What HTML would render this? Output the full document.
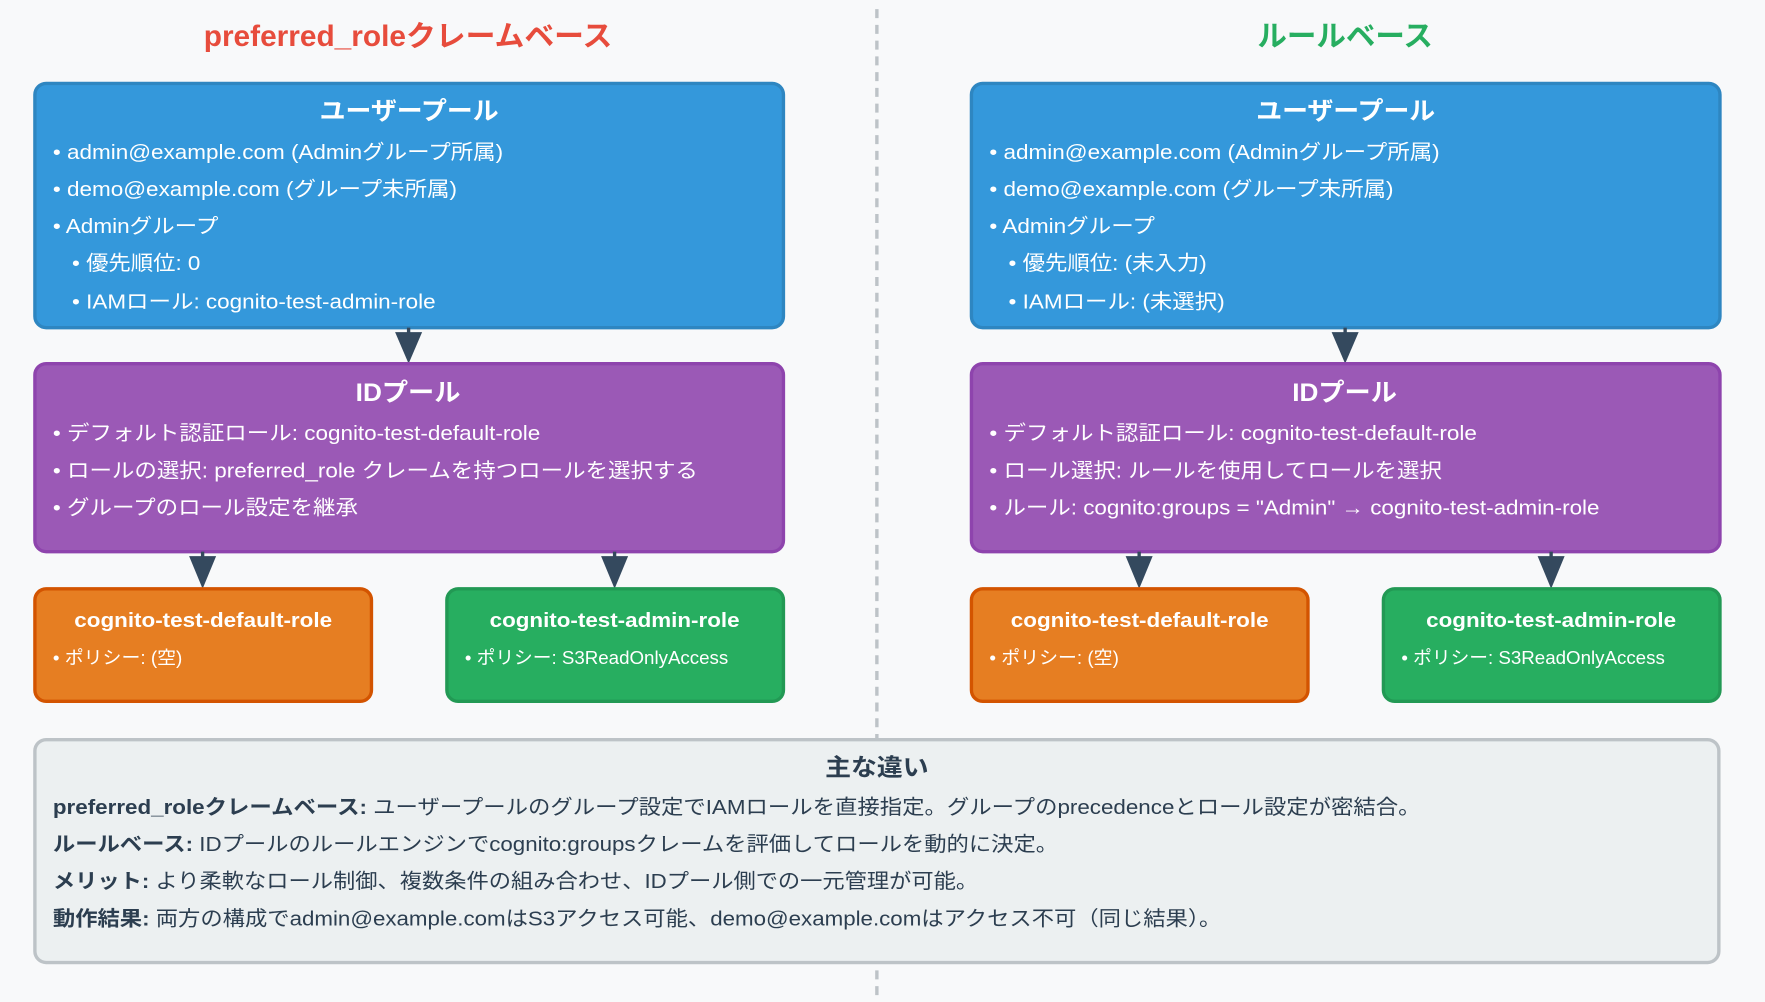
<!DOCTYPE html>
<html><head><meta charset="utf-8"><style>
html,body{margin:0;padding:0;background:#f8f9fa;}
svg{display:block;}
text{font-family:"Liberation Sans","Noto Sans CJK JP",sans-serif;}
</style></head><body>
<svg width="1765" height="1002" viewBox="0 0 1568 890" xmlns="http://www.w3.org/2000/svg">
<rect width="1568" height="890" fill="#f8f9fa"/>
<line x1="779" y1="8" x2="779" y2="885" stroke="#bdc3c7" stroke-width="3" stroke-dasharray="8,6"/>
<text x="181" y="41" textLength="363" lengthAdjust="spacingAndGlyphs" font-size="26" font-weight="bold" fill="#e74c3c">preferred_roleクレームベース</text>
<text x="1117" y="41" textLength="156" lengthAdjust="spacingAndGlyphs" font-size="26" font-weight="bold" fill="#27ae60">ルールベース</text>

<g id="L">
<rect x="31" y="74" width="665" height="217" rx="10" fill="#3498db" stroke="#2e86c1" stroke-width="3"/>
<line x1="363" y1="291" x2="363" y2="300" stroke="#34495e" stroke-width="3"/>
<polygon points="351,295 375,295 363,323" fill="#34495e"/>
<rect x="31" y="323" width="665" height="167" rx="10" fill="#9b59b6" stroke="#8e44ad" stroke-width="3"/>
<line x1="180" y1="490" x2="180" y2="500" stroke="#34495e" stroke-width="3"/>
<polygon points="168,494 192,494 180,523" fill="#34495e"/>
<line x1="546" y1="490" x2="546" y2="500" stroke="#34495e" stroke-width="3"/>
<polygon points="534,494 558,494 546,523" fill="#34495e"/>
<rect x="31" y="523" width="299" height="100" rx="10" fill="#e67e22" stroke="#d35400" stroke-width="3"/>
<rect x="397" y="523" width="299" height="100" rx="10" fill="#27ae60" stroke="#229954" stroke-width="3"/>
</g>
<use href="#L" x="832"/>

<g font-size="22" font-weight="bold" fill="#fff">
<text x="284" y="106" textLength="159" lengthAdjust="spacingAndGlyphs">ユーザープール</text>
<text x="1116" y="106" textLength="159" lengthAdjust="spacingAndGlyphs">ユーザープール</text>
<text x="316" y="356" textLength="93" lengthAdjust="spacingAndGlyphs">IDプール</text>
<text x="1148" y="356" textLength="93" lengthAdjust="spacingAndGlyphs">IDプール</text>
</g>
<g font-size="18" font-weight="bold" fill="#fff">
<text x="66" y="557" textLength="229" lengthAdjust="spacingAndGlyphs">cognito-test-default-role</text>
<text x="435" y="557" textLength="222" lengthAdjust="spacingAndGlyphs">cognito-test-admin-role</text>
<text x="898" y="557" textLength="229" lengthAdjust="spacingAndGlyphs">cognito-test-default-role</text>
<text x="1267" y="557" textLength="222" lengthAdjust="spacingAndGlyphs">cognito-test-admin-role</text>
</g>
<g font-size="16" fill="#fff">
<text x="47" y="590" textLength="115" lengthAdjust="spacingAndGlyphs">• ポリシー: (空)</text>
<text x="413" y="590" textLength="234" lengthAdjust="spacingAndGlyphs">• ポリシー: S3ReadOnlyAccess</text>
<text x="879" y="590" textLength="115" lengthAdjust="spacingAndGlyphs">• ポリシー: (空)</text>
<text x="1245" y="590" textLength="234" lengthAdjust="spacingAndGlyphs">• ポリシー: S3ReadOnlyAccess</text>
</g>

<g font-size="18" fill="#fff" lengthAdjust="spacingAndGlyphs">
<text x="47" y="141" textLength="400" lengthAdjust="spacingAndGlyphs">• admin@example.com (Adminグループ所属)</text>
<text x="47" y="174" textLength="359" lengthAdjust="spacingAndGlyphs">• demo@example.com (グループ未所属)</text>
<text x="47" y="207" textLength="147" lengthAdjust="spacingAndGlyphs">• Adminグループ</text>
<text x="64" y="240" textLength="114" lengthAdjust="spacingAndGlyphs">• 優先順位: 0</text>
<text x="64" y="274" textLength="323" lengthAdjust="spacingAndGlyphs">• IAMロール: cognito-test-admin-role</text>
<text x="47" y="391" textLength="433" lengthAdjust="spacingAndGlyphs">• デフォルト認証ロール: cognito-test-default-role</text>
<text x="47" y="424" textLength="573" lengthAdjust="spacingAndGlyphs">• ロールの選択: preferred_role クレームを持つロールを選択する</text>
<text x="47" y="457" textLength="271" lengthAdjust="spacingAndGlyphs">• グループのロール設定を継承</text>
<text x="879" y="141" textLength="400" lengthAdjust="spacingAndGlyphs">• admin@example.com (Adminグループ所属)</text>
<text x="879" y="174" textLength="359" lengthAdjust="spacingAndGlyphs">• demo@example.com (グループ未所属)</text>
<text x="879" y="207" textLength="147" lengthAdjust="spacingAndGlyphs">• Adminグループ</text>
<text x="896" y="240" textLength="176" lengthAdjust="spacingAndGlyphs">• 優先順位: (未入力)</text>
<text x="896" y="274" textLength="192" lengthAdjust="spacingAndGlyphs">• IAMロール: (未選択)</text>
<text x="879" y="391" textLength="433" lengthAdjust="spacingAndGlyphs">• デフォルト認証ロール: cognito-test-default-role</text>
<text x="879" y="424" textLength="402" lengthAdjust="spacingAndGlyphs">• ロール選択: ルールを使用してロールを選択</text>
<text x="879" y="457" textLength="542" lengthAdjust="spacingAndGlyphs">• ルール: cognito:groups = "Admin" → cognito-test-admin-role</text>
</g>

<rect x="31" y="657" width="1496" height="198" rx="10" fill="#ecf0f1" stroke="#bdc3c7" stroke-width="3"/>
<text x="733" y="689" textLength="92" lengthAdjust="spacingAndGlyphs" font-size="21" font-weight="bold" fill="#2c3e50">主な違い</text>
<g font-size="18" fill="#2c3e50">
<text x="47" y="723" textLength="1215" lengthAdjust="spacingAndGlyphs"><tspan font-weight="bold">preferred_roleクレームベース:</tspan> ユーザープールのグループ設定でIAMロールを直接指定。グループのprecedenceとロール設定が密結合。</text>
<text x="47" y="756" textLength="893" lengthAdjust="spacingAndGlyphs"><tspan font-weight="bold">ルールベース:</tspan> IDプールのルールエンジンでcognito:groupsクレームを評価してロールを動的に決定。</text>
<text x="47" y="789" textLength="822" lengthAdjust="spacingAndGlyphs"><tspan font-weight="bold">メリット:</tspan> より柔軟なロール制御、複数条件の組み合わせ、IDプール側での一元管理が可能。</text>
<text x="47" y="822" textLength="1038" lengthAdjust="spacingAndGlyphs"><tspan font-weight="bold">動作結果:</tspan> 両方の構成でadmin@example.comはS3アクセス可能、demo@example.comはアクセス不可（同じ結果）。</text>
</g>
</svg>
</body></html>
